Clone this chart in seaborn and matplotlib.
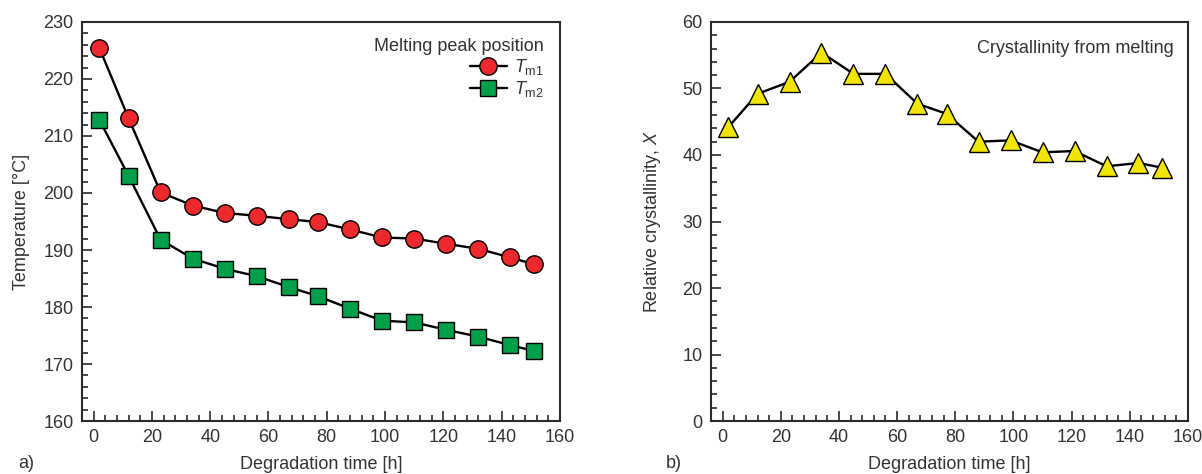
import numpy as np
import pandas as pd
import matplotlib
matplotlib.use("Agg")
import matplotlib.pyplot as plt
from matplotlib.ticker import MultipleLocator
from matplotlib.lines import Line2D
import seaborn as sns

# Degradation times [h]
time_h = [2, 12, 23, 34, 45, 56, 67, 77, 88, 99, 110, 121, 132, 143, 151]
# Melting peak temperatures [°C]
tm1 = [225.4, 213.1, 200.1, 197.8, 196.5, 196.0, 195.4, 194.9, 193.6, 192.2, 192.0, 191.1, 190.2, 188.7, 187.5]
tm2 = [212.8, 203.0, 191.8, 188.5, 186.7, 185.4, 183.5, 181.9, 179.7, 177.6, 177.3, 176.0, 174.8, 173.3, 172.3]
# Relative crystallinity from melting
cryst = [44.2, 49.2, 51.0, 55.4, 52.2, 52.2, 47.7, 46.2, 42.0, 42.2, 40.4, 40.6, 38.3, 38.8, 38.1]

sns.set_style("ticks")
plt.rcParams["font.family"] = ["Liberation Sans", "DejaVu Sans"]
plt.rcParams["mathtext.fontset"] = "custom"
plt.rcParams["mathtext.it"] = "Liberation Sans:italic"
plt.rcParams["mathtext.rm"] = "Liberation Sans"

TXT = "#333333"
AX = "#2b2b2b"
RED = "#ec2a2e"
GREEN = "#00a04b"
YELLOW = "#f2e600"
FS = 13

fig = plt.figure(figsize=(12.02, 4.74), dpi=100)
ax1 = fig.add_axes([0.0682, 0.1118, 0.3976, 0.8418])
ax2 = fig.add_axes([0.5915, 0.1118, 0.3968, 0.8418])

df = pd.DataFrame({"t": time_h, "tm1": tm1, "tm2": tm2, "x": cryst})

sns.lineplot(data=df, x="t", y="tm1", ax=ax1, color="black", lw=1.7,
             marker="o", markersize=12.5, markerfacecolor=RED,
             markeredgecolor="black", markeredgewidth=1.0)
sns.lineplot(data=df, x="t", y="tm2", ax=ax1, color="black", lw=1.7,
             marker="s", markersize=11.5, markerfacecolor=GREEN,
             markeredgecolor="black", markeredgewidth=1.0)
sns.lineplot(data=df, x="t", y="x", ax=ax2, color="black", lw=1.7,
             marker="^", markersize=14.5, markerfacecolor=YELLOW,
             markeredgecolor="black", markeredgewidth=1.0)

def style_axes(ax, ylim, ymaj, ymin):
    ax.set_xlim(-4, 160)
    ax.set_ylim(*ylim)
    ax.xaxis.set_major_locator(MultipleLocator(20))
    ax.xaxis.set_minor_locator(MultipleLocator(4))
    ax.yaxis.set_major_locator(MultipleLocator(ymaj))
    ax.yaxis.set_minor_locator(MultipleLocator(ymin))
    ax.tick_params(which="both", direction="in", colors=AX, labelcolor=TXT,
                   labelsize=FS, top=False, right=False, width=1.2)
    ax.tick_params(which="major", length=7, pad=6)
    ax.tick_params(which="minor", length=4)
    for s in ax.spines.values():
        s.set_visible(True)
        s.set_color(AX)
        s.set_linewidth(1.5)
    ax.set_xlabel("Degradation time [h]", fontsize=FS, color=TXT, labelpad=7)

style_axes(ax1, (160, 230), 10, 2)
style_axes(ax2, (0, 60), 10, 2)
ax1.set_ylabel("Temperature [°C]", fontsize=FS, color=TXT, labelpad=10)
ax2.set_ylabel("Relative crystallinity, $\\mathit{X}$", fontsize=FS, color=TXT, labelpad=14)

handles = [
    Line2D([], [], color="black", lw=1.7, marker="o", markersize=12.5,
           markerfacecolor=RED, markeredgecolor="black"),
    Line2D([], [], color="black", lw=1.7, marker="s", markersize=11.5,
           markerfacecolor=GREEN, markeredgecolor="black"),
]
leg = ax1.legend(handles, ["$\\mathit{T}_{\\mathrm{m1}}$", "$\\mathit{T}_{\\mathrm{m2}}$"],
                 title="Melting peak position", loc="upper right", frameon=False,
                 fontsize=FS, title_fontsize=FS, handlelength=2.0, handletextpad=0.4,
                 labelspacing=0.1, alignment="right", borderaxespad=0.5)
leg.get_title().set_color(TXT)
for t in leg.get_texts():
    t.set_color(TXT)

ax2.text(0.97, 0.955, "Crystallinity from melting", transform=ax2.transAxes,
         ha="right", va="top", fontsize=FS, color=TXT)

fig.text(18 / 1202, 1 - 463 / 474, "a)", fontsize=FS, color=TXT, ha="left", va="center")
fig.text(666 / 1202, 1 - 463 / 474, "b)", fontsize=FS, color=TXT, ha="left", va="center")

fig.savefig("out.png", dpi=100)
